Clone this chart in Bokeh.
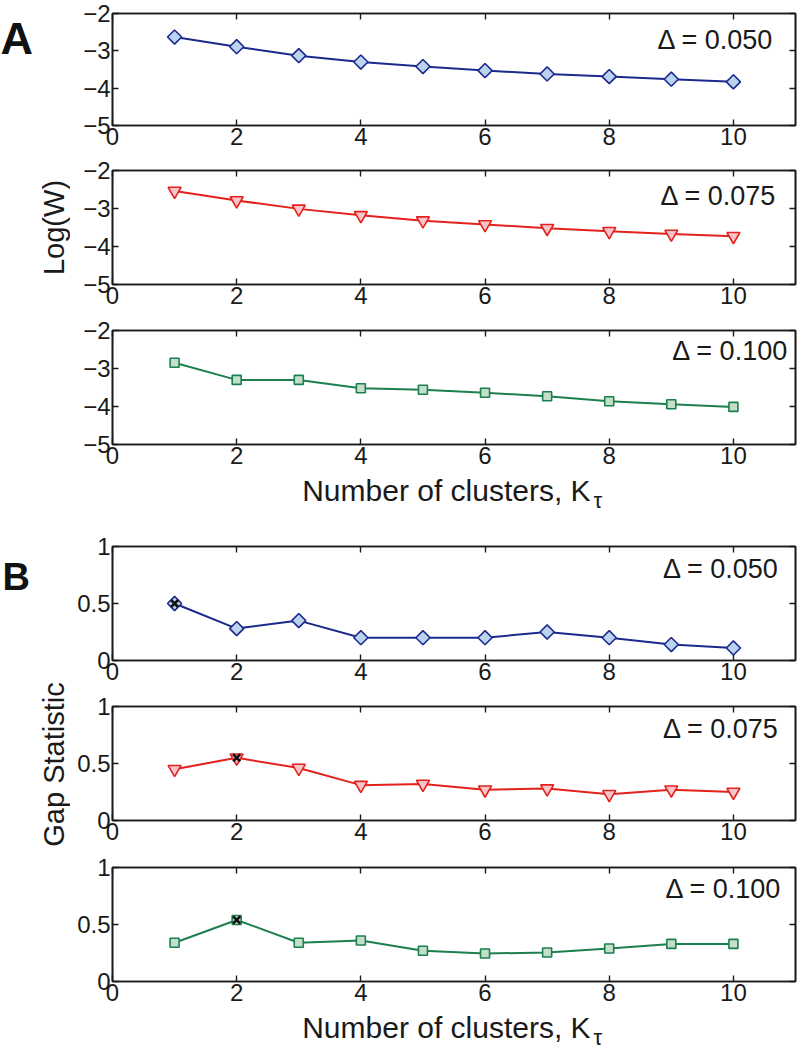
import math
from bokeh.plotting import figure
from bokeh.models import Range1d, LinearAxis, FixedTicker, Label
from bokeh.layouts import column, row
from bokeh.embed import file_html
from bokeh.resources import INLINE
from bokeh.core.properties import value

# ---------------- data ----------------
clusters = [1, 2, 3, 4, 5, 6, 7, 8, 9, 10]
logw_050 = [-2.63, -2.89, -3.13, -3.30, -3.42, -3.53, -3.62, -3.69, -3.76, -3.83]
logw_075 = [-2.54, -2.79, -3.01, -3.18, -3.32, -3.42, -3.52, -3.60, -3.67, -3.73]
logw_100 = [-2.85, -3.30, -3.30, -3.52, -3.56, -3.64, -3.73, -3.86, -3.94, -4.01]
gap_050 = [0.50, 0.28, 0.35, 0.20, 0.20, 0.20, 0.25, 0.20, 0.14, 0.11]
gap_075 = [0.45, 0.55, 0.46, 0.31, 0.32, 0.27, 0.28, 0.23, 0.27, 0.25]
gap_100 = [0.34, 0.54, 0.34, 0.36, 0.27, 0.245, 0.255, 0.29, 0.33, 0.33]
best_k = [1, 2, 2]
delta_labels = ["\u0394 = 0.050", "\u0394 = 0.075", "\u0394 = 0.100"]
x_ticks = [0, 2, 4, 6, 8, 10]
logw_ticks = [-5, -4, -3, -2]
logw_tick_labels = ["\u22125", "\u22124", "\u22123", "\u22122"]
gap_ticks = [0, 0.5, 1]
gap_tick_labels = ["0", "0.5", "1"]
x_title = "Number of clusters, K"
x_title_sub = "\u03c4"
y_title_a = "Log(W)"
y_title_b = "Gap Statistic"

# ---------------- style ----------------
FONT = "Liberation Sans"
FRAME = "#1a1a1a"
TXT = "#1a1a1a"
BLUE, BLUE_F = "#1b2a8c", "#bcd3f0"
RED, RED_F = "#e3221c", "#f7c4cc"
GREEN, GREEN_F = "#1b7f4e", "#c3dfca"

STRIP_W = 70
PANEL_W = 732
TOTAL_H = 1049
BL, BR = 42, 7


def style_axis(ax, labels=True, hidden=False):
    ax.axis_line_color = FRAME
    ax.axis_line_width = 1.6
    ax.major_tick_line_color = FRAME
    ax.major_tick_line_width = 1.4
    ax.major_tick_in = 6
    ax.major_tick_out = 0
    ax.minor_tick_line_color = None
    if labels:
        ax.major_label_text_font = FONT
        ax.major_label_text_font_size = "24px"
        ax.major_label_text_color = TXT
        ax.major_label_standoff = 2
    else:
        ax.major_label_text_font_size = "0px"
        ax.major_label_standoff = 0
    if hidden:
        ax.axis_line_alpha = 0
        ax.major_tick_line_alpha = 0


def base_fig(height, yr, top, bottom):
    p = figure(width=PANEL_W, height=height, x_range=Range1d(0, 11), y_range=yr,
               output_backend="svg", toolbar_location=None,
               x_axis_type=None, y_axis_type=None,
               min_border_left=BL, min_border_right=BR,
               min_border_top=top, min_border_bottom=bottom)
    p.background_fill_color = "white"
    p.border_fill_color = "white"
    return p


def panel(yvals, ylo, yhi, yticks, ylabels, color, fill, marker, msize, mangle,
          height, top, bottom, dtext, dx, dy, best=None):
    p = base_fig(height, Range1d(ylo, yhi), top, bottom)
    p.outline_line_color = FRAME
    p.outline_line_width = 1.6

    xl = {t: str(t) for t in x_ticks}
    yl = {t: s for t, s in zip(yticks, ylabels)}
    b = LinearAxis(ticker=FixedTicker(ticks=x_ticks), major_label_overrides=xl)
    style_axis(b)
    a = LinearAxis(ticker=FixedTicker(ticks=x_ticks))
    style_axis(a, labels=False)
    l = LinearAxis(ticker=FixedTicker(ticks=yticks), major_label_overrides=yl)
    style_axis(l)
    r = LinearAxis(ticker=FixedTicker(ticks=yticks))
    style_axis(r, labels=False)
    p.add_layout(b, "below")
    p.add_layout(a, "above")
    p.add_layout(l, "left")
    p.add_layout(r, "right")

    p.line(clusters, yvals, line_color=color, line_width=2)
    p.scatter(clusters, yvals, marker=marker, size=msize, angle=mangle,
              fill_color=fill, line_color=color, line_width=1.6)
    if best is not None:
        p.scatter([best], [yvals[clusters.index(best)]], marker="x", size=10,
                  line_color="#111111", line_width=2.6)

    p.add_layout(Label(x=dx, y=dy, text=dtext, text_align="right",
                       text_baseline="alphabetic", text_font=FONT,
                       text_font_size="27px", text_color=TXT))
    return p


def title_strip(height, base_y, sub_y):
    p = base_fig(height, Range1d(0, height), 0, 0)
    p.outline_line_color = None
    r = LinearAxis(ticker=FixedTicker(ticks=[0]))
    style_axis(r, labels=False, hidden=True)
    p.add_layout(r, "right")
    p.text(x=[7.70], y=[base_y], text=[x_title], text_align="right",
           text_baseline="alphabetic", text_font=value(FONT),
           text_font_size="30px", text_color=TXT)
    p.text(x=[7.70], y=[sub_y], x_offset=3, text=[x_title_sub], text_align="left",
           text_baseline="alphabetic", text_font=value(FONT),
           text_font_size="22px", text_color=TXT)
    return p


D = math.pi / 4
a1 = panel(logw_050, -5, -2, logw_ticks, logw_tick_labels, BLUE, BLUE_F, "square", 10, D,
           156, 13, 31, delta_labels[0], 10.65, -2.70)
a2 = panel(logw_075, -5, -2, logw_ticks, logw_tick_labels, RED, RED_F, "inverted_triangle", 13, 0,
           160, 14, 32, delta_labels[1], 10.70, -2.66)
a3 = panel(logw_100, -5, -2, logw_ticks, logw_tick_labels, GREEN, GREEN_F, "square", 9, 0,
           157, 14, 29, delta_labels[2], 10.89, -2.55)
ta = title_strip(59, 59 - 17, 59 - 27)
b1 = panel(gap_050, 0, 1, gap_ticks, gap_tick_labels, BLUE, BLUE_F, "square", 10, D,
           160, 14, 32, delta_labels[0], 10.74, 0.80, best=best_k[0])
b2 = panel(gap_075, 0, 1, gap_ticks, gap_tick_labels, RED, RED_F, "inverted_triangle", 13, 0,
           161, 14, 33, delta_labels[1], 10.74, 0.80, best=best_k[1])
b3 = panel(gap_100, 0, 1, gap_ticks, gap_tick_labels, GREEN, GREEN_F, "square", 9, 0,
           157, 14, 29, delta_labels[2], 10.78, 0.81, best=best_k[2])
tb = title_strip(39, 39 - 17, 39 - 27)

# left strip with panel letters and y titles (y measured upward from bottom)
s = figure(width=STRIP_W, height=TOTAL_H, x_range=Range1d(0, STRIP_W),
           y_range=Range1d(0, TOTAL_H), output_backend="svg", toolbar_location=None,
           x_axis_type=None, y_axis_type=None, min_border=0)
s.outline_line_color = None
s.text(x=[0], y=[TOTAL_H - 38], text=["A"], text_font=value(FONT), text_font_size="45px",
       text_font_style="bold", text_baseline="alphabetic", text_color="#111111")
s.text(x=[2], y=[TOTAL_H - 576], text=["B"], text_font=value(FONT), text_font_size="38px",
       text_font_style="bold", text_baseline="alphabetic", text_color="#111111")
s.text(x=[53], y=[TOTAL_H - 227], text=[y_title_a], angle=math.pi / 2, text_font=value(FONT),
       text_font_size="29px", text_align="center", text_baseline="middle", text_color=TXT)
s.text(x=[53], y=[TOTAL_H - 764], text=[y_title_b], angle=math.pi / 2, text_font=value(FONT),
       text_font_size="29px", text_align="center", text_baseline="middle", text_color=TXT)

layout = row(s, column(a1, a2, a3, ta, b1, b2, b3, tb))
open("out.html", "w").write(file_html(layout, INLINE, "Gap statistic"))
